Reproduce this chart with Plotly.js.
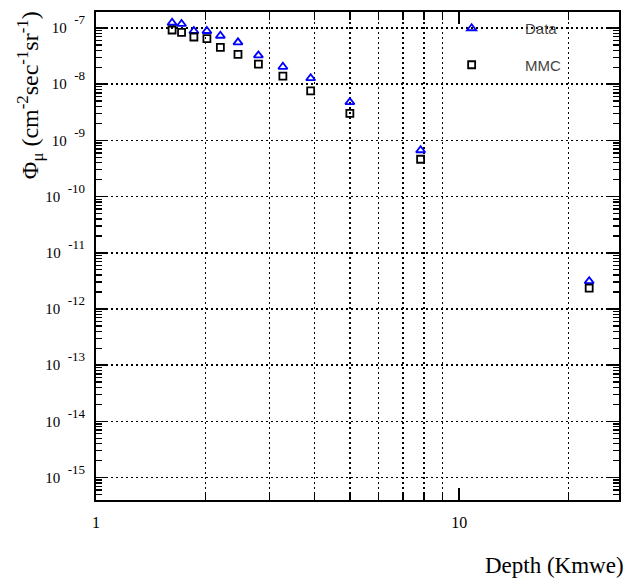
<!DOCTYPE html>
<html>
<head>
<meta charset="utf-8">
<script src="https://cdn.plot.ly/plotly-3.0.1.min.js"></script>
<style>html,body{margin:0;padding:0;background:#fff;}#chart{width:624px;height:582px;}</style>
</head>
<body>
<div id="chart"></div>
<script>
// Depth in km water equivalent
const depth = [1.62, 1.72, 1.86, 2.02, 2.20, 2.46, 2.80, 3.27, 3.90, 5.00, 7.83, 22.8];
// Measured muon flux (Data)
const fluxData = [1.24e-7, 1.18e-7, 8.85e-8, 8.85e-8, 7.29e-8, 5.56e-8, 3.26e-8, 2.04e-8, 1.28e-8, 4.80e-9, 6.68e-10, 3.13e-12];
// MMC simulation
const fluxMMC = [9.21e-8, 8.38e-8, 6.92e-8, 6.45e-8, 4.53e-8, 3.40e-8, 2.28e-8, 1.39e-8, 7.62e-9, 3.02e-9, 4.62e-10, 2.35e-12];

const yExponents = ['-7', '-8', '-9', '-10', '-11', '-12', '-13', '-14', '-15'];
const yTickVals = yExponents.map(e => Math.pow(10, Number(e)));
const yTickText = yExponents.map(e => '10\u2002<span style="font-size:13px;baseline-shift:9px">' + e + '</span>');
const xTickVals = [1, 10];
const xTickText = ['1', '10'];
const xMinorVals = [2, 3, 4, 5, 6, 7, 8, 9, 20];
const yMinorMantissas = [2, 3, 4, 5, 6, 7, 8, 9];
const yMinorVals = [];
for (let p = -16; p <= -7; p++) {
  yMinorMantissas.forEach(m => yMinorVals.push(m * Math.pow(10, p)));
}

const pad = '\u00A0\u00A0\u00A0\u00A0\u00A0\u00A0\u00A0\u00A0';

const traces = [
  {
    x: depth, y: fluxData, type: 'scatter', mode: 'markers', name: pad + 'Data',
    legendgroup: 'a',
    marker: {symbol: 'triangle-up-open', size: 8, color: '#0000ff', line: {width: 1.8, color: '#0000ff'}}
  },
  {
    x: depth, y: fluxMMC, type: 'scatter', mode: 'markers', name: pad + 'MMC',
    legendgroup: 'b',
    marker: {symbol: 'square-open', size: 7, color: '#000000', line: {width: 1.8, color: '#000000'}}
  }
];

const layout = {
  width: 624, height: 582,
  margin: {l: 96, r: 5, t: 12, b: 82},
  paper_bgcolor: '#fff', plot_bgcolor: '#fff',
  showlegend: true,
  legend: {
    x: 0.68, y: 1, xanchor: 'left', yanchor: 'top',
    bgcolor: 'rgba(0,0,0,0)', borderwidth: 0,
    traceorder: 'grouped', tracegroupgap: 14,
    font: {family: 'Liberation Sans, Arial, sans-serif', size: 15, color: '#444'}
  },
  xaxis: {
    type: 'log', range: [0, 1.44],
    tickvals: xTickVals, ticktext: xTickText,
    ticks: 'inside', ticklen: 12, tickwidth: 1.5, tickcolor: '#000',
    showline: true, linewidth: 2, linecolor: '#000', mirror: 'ticks',
    showgrid: false, zeroline: false,
    ticklabelstandoff: 7,
    tickfont: {family: 'Liberation Serif, Times New Roman, serif', size: 16, color: '#000'},
    minor: {
      tickvals: xMinorVals,
      ticks: 'inside', ticklen: 8, tickwidth: 1.5, tickcolor: '#000',
      showgrid: true, gridcolor: '#000', gridwidth: 1.5, griddash: '2px,3px'
    }
  },
  yaxis: {
    type: 'log', range: [-15.4, -6.715],
    tickvals: yTickVals, ticktext: yTickText,
    ticks: 'inside', ticklen: 11, tickwidth: 1.5, tickcolor: '#000',
    showline: true, linewidth: 2, linecolor: '#000', mirror: 'ticks',
    showgrid: true, gridcolor: '#000', gridwidth: 1.5, griddash: '2px,3px',
    zeroline: false,
    ticklabelstandoff: 6,
    tickfont: {family: 'Liberation Serif, Times New Roman, serif', size: 15, color: '#000'},
    minor: {
      tickvals: yMinorVals,
      ticks: 'inside', ticklen: 6, tickwidth: 1.3, tickcolor: '#000',
      showgrid: false
    }
  },
  annotations: [
    {
      text: 'Φ<sub>μ</sub> (cm<sup>-2</sup>sec<sup>-1</sup>sr<sup>-1</sup>)',
      xref: 'paper', yref: 'paper', x: -0.127, y: 1.005,
      xanchor: 'center', yanchor: 'top', textangle: -90, showarrow: false,
      font: {family: 'Liberation Serif, Times New Roman, serif', size: 24, color: '#000'}
    },
    {
      text: 'Depth (Kmwe)',
      xref: 'paper', yref: 'paper', x: 1.014, y: -0.104,
      xanchor: 'right', yanchor: 'top', showarrow: false,
      font: {family: 'Liberation Serif, Times New Roman, serif', size: 23, color: '#000'}
    }
  ]
};

Plotly.newPlot('chart', traces, layout, {displayModeBar: false, staticPlot: true});
</script>
</body>
</html>
